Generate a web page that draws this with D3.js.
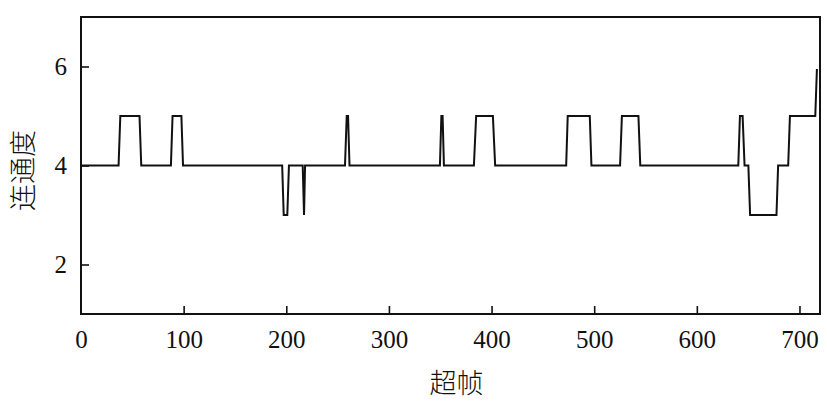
<!DOCTYPE html>
<html><head><meta charset="utf-8">
<script src="https://cdn.jsdelivr.net/npm/d3@7"></script>
<style>body{margin:0;background:#fff}</style>
</head><body>
<svg id="c" width="827" height="401"></svg>
<script>
const frames = [0,36.6,38.3,57,58.7,87.6,89.2,97.8,99.4,196,197.5,201,202.6,216,217.3,218.3,257.2,258.9,260.2,261.6,349.7,351.1,352.3,353.6,382.8,385,401.3,403.5,472.7,474.2,495.7,497.3,525.2,527,543.1,544.9,640.4,642,644.6,646.5,650.2,651.9,677.6,679.2,689,690.7,715.4,717];
const degree = [4,4,5,5,4,4,5,5,4,4,3,3,4,4,3,4,4,5,5,4,4,5,5,4,4,5,5,4,4,5,5,4,4,5,5,4,4,5,5,4,4,3,3,4,4,5,5,5.95];
const xTicks = [0,100,200,300,400,500,600,700];
const yTicks = [2,4,6];
const xTitle = "超帧", yTitle = "连通度";

const svg = d3.select("#c");
const L = 81, R = 820, T = 17, B = 314;
const x = d3.scaleLinear().domain([0,720]).range([L,R]);
const y = d3.scaleLinear().domain([1,7]).range([B,T]);

const cjk = "Noto Sans CJK SC, Noto Sans CJK JP, sans-serif";

const gx = svg.append("g").attr("transform",`translate(0,${B})`)
  .call(d3.axisBottom(x).tickValues(xTicks).tickSize(-8).tickPadding(16).tickFormat(d3.format("d")));
const gy = svg.append("g").attr("transform",`translate(${L},0)`)
  .call(d3.axisLeft(y).tickValues(yTicks).tickSize(-8).tickPadding(14).tickFormat(d3.format("d")));
[gx,gy].forEach(g=>{
  g.attr("font-family","Liberation Serif").attr("font-size",25);
  g.select(".domain").remove();
  g.selectAll(".tick line").attr("stroke","#111").attr("stroke-width",1.6);
  g.selectAll(".tick text").attr("font-family","Liberation Serif").attr("font-size",25).attr("fill","#111");
});
gx.selectAll(".tick").filter(d=>d===0).select("line").remove();

svg.append("rect").attr("x",L).attr("y",T).attr("width",R-L).attr("height",B-T)
  .attr("fill","none").attr("stroke","#111").attr("stroke-width",2);

const line = d3.line().x((d,i)=>x(frames[i])).y(d=>y(d));
svg.append("path").datum(degree).attr("d",line)
  .attr("fill","none").attr("stroke","#111").attr("stroke-width",2).attr("stroke-linejoin","miter");

svg.append("text").attr("x",(L+R)/2+6).attr("y",393).attr("text-anchor","middle")
  .style("font-family",cjk).style("font-size","27px").style("font-weight",300).attr("fill","#111").text(xTitle);
svg.append("text").attr("transform",`translate(33,${(T+B)/2+5}) rotate(-90)`).attr("text-anchor","middle")
  .style("font-family",cjk).style("font-size","27px").style("font-weight",300).attr("fill","#111").text(yTitle);
</script>
</body></html>
